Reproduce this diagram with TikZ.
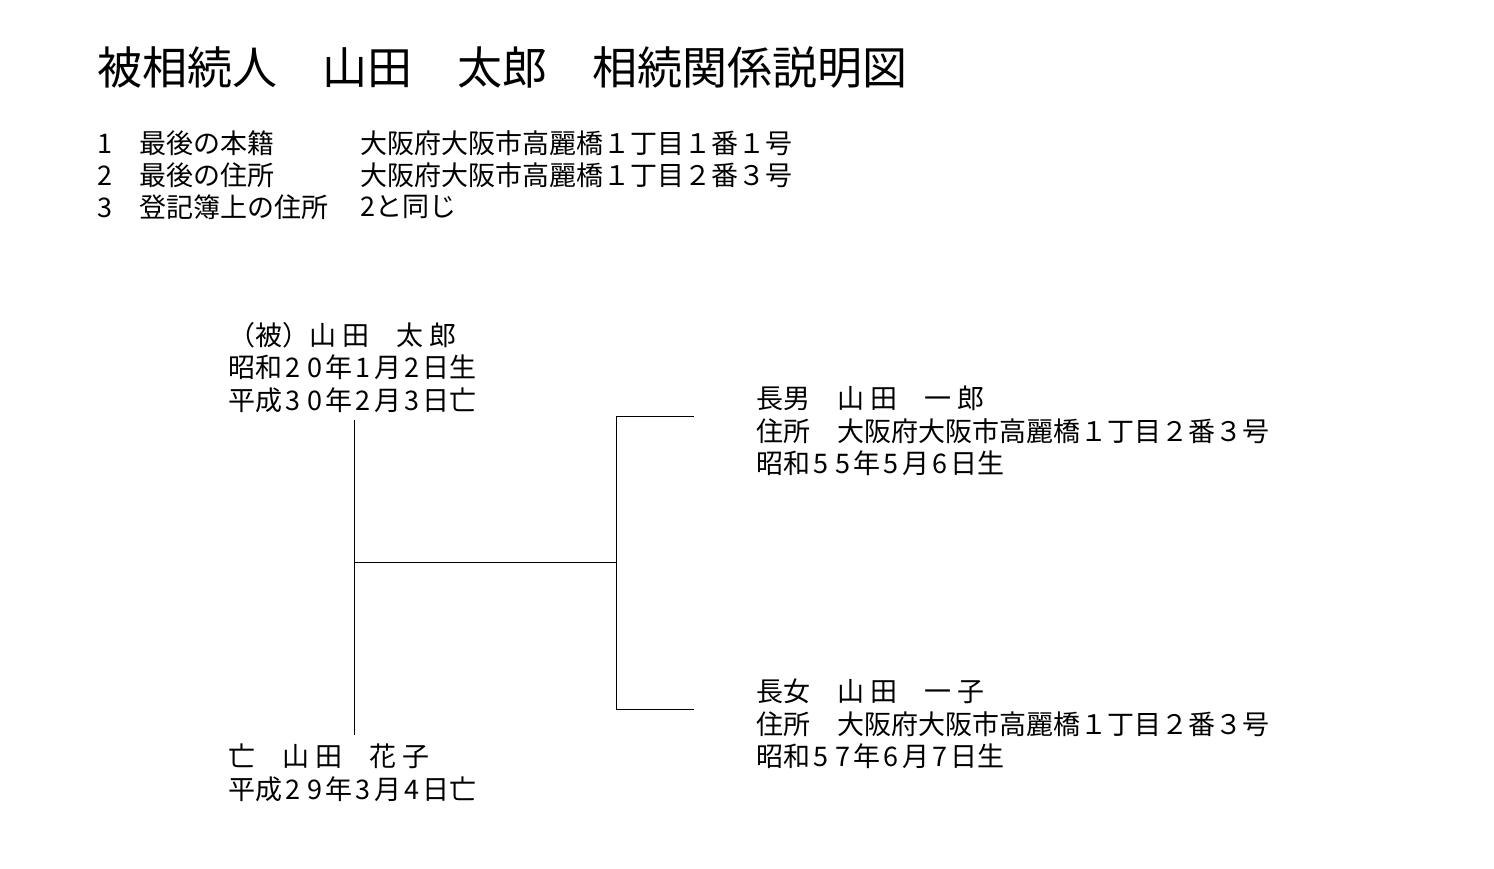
\documentclass[tikz,border=0pt]{standalone}
\usepackage{fontspec}
\setmainfont{Noto Sans CJK JP}
\usetikzlibrary{positioning}
\newcommand\dg[1]{\makebox[0.8em]{#1}}

\begin{document}
\begin{tikzpicture}[
    x=1pt, y=-1pt,
    title/.style={anchor=west, inner sep=0pt, font=\fontsize{45}{48}\selectfont},
    item/.style={anchor=west, inner sep=0pt, font=\fontsize{27}{32}\selectfont},
    person/.style={anchor=north west, inner sep=0pt, align=left, font=\fontsize{27}{32.5}\selectfont},
    line/.style={line width=0.8pt}
]
    \useasboundingbox[fill=white] (0,0) rectangle (1494,868);
    \node[title] (title) at (97,68) {被相続人　山田　太郎　相続関係説明図};

    \node[item] (n1) at (97,143) {1　最後の本籍};
    \node[item] (n2) at (97,175) {2　最後の住所};
    \node[item] (n3) at (97,207) {3　登記簿上の住所};
    \node[item] (v1) at (360,143) {大阪府大阪市高麗橋１丁目１番１号};
    \node[item] (v2) at (360,175) {大阪府大阪市高麗橋１丁目２番３号};
    \node[item] (v3) at (360,207) {2と同じ};

    \node[person] (deceased) at (228,322) {（被）山 田　太 郎\\昭和\dg2\dg0年\dg1月\dg2日生\\平成\dg3\dg0年\dg2月\dg3日亡};
    \node[person] (spouse) at (228,744) {亡　山 田　花 子\\平成\dg2\dg9年\dg3月\dg4日亡};
    \node[person] (son) at (756,386) {長男　山 田　一 郎\\住所　大阪府大阪市高麗橋１丁目２番３号\\昭和\dg5\dg5年\dg5月\dg6日生};
    \node[person] (daughter) at (756,679) {長女　山 田　一 子\\住所　大阪府大阪市高麗橋１丁目２番３号\\昭和\dg5\dg7年\dg6月\dg7日生};

    \coordinate (top) at (354,420);
    \coordinate (bottom) at (354,735);
    \coordinate (hub) at (354,562);
    \coordinate (branch) at (616,562);
    \coordinate (branchtop) at (616,416);
    \coordinate (branchbottom) at (616,709);
    \coordinate (sonend) at (694,416);
    \coordinate (daughterend) at (694,709);

    \draw[line] (top) -- (bottom);
    \draw[line] (hub) -- (branch);
    \draw[line] (branchtop) -- (branchbottom);
    \draw[line] (branchtop) -- (sonend);
    \draw[line] (branchbottom) -- (daughterend);
\end{tikzpicture}
\end{document}
